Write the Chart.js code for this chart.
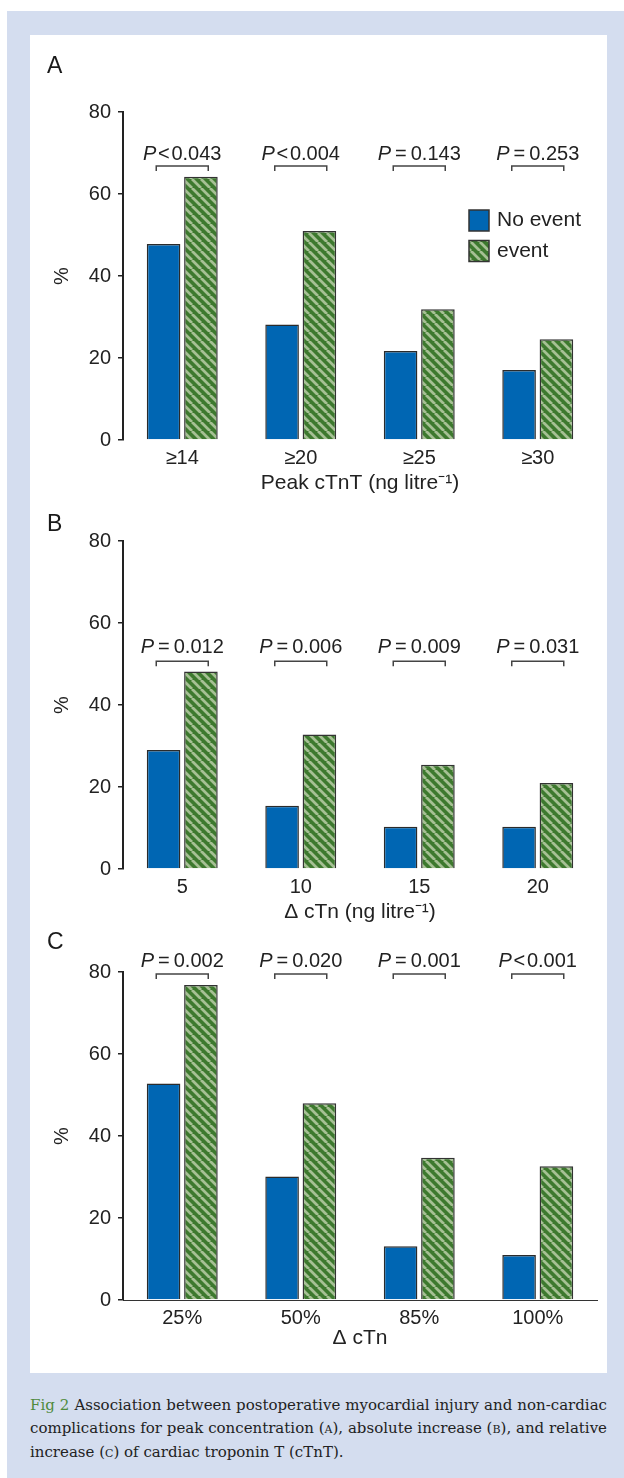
<!DOCTYPE html>
<html><head><meta charset="utf-8">
<script src="https://cdn.jsdelivr.net/npm/chart.js@4.4.0/dist/chart.umd.min.js"></script>
<style>
html,body{margin:0;padding:0;background:#fff;}
body{width:624px;height:1478px;position:relative;overflow:hidden;font-family:"Liberation Sans",Arial,sans-serif;}
#frame{position:absolute;left:7px;top:11px;width:617px;height:1467px;background:#d4ddef;}
#panel{position:absolute;left:30px;top:35px;width:577px;height:1338px;background:#fff;}
canvas{position:absolute;left:30px;}
.letter{position:absolute;left:47px;font-size:23px;line-height:1;color:#1a1a1a;}
#caption{position:absolute;left:30px;top:1394px;width:577px;font-family:"DejaVu Serif",serif;font-size:15px;line-height:23.3px;color:#222;}
#caption .line{text-align:justify;text-align-last:justify;white-space:nowrap;}
#caption .fig{color:#4f8a3c;}
.sc{font-variant:small-caps;}
</style>
</head><body>
<div id="frame"></div>
<div id="panel"></div>
<canvas id="cA" width="577" height="461" style="top:35px"></canvas>
<canvas id="cB" width="577" height="425" style="top:500px"></canvas>
<canvas id="cC" width="577" height="429" style="top:927px"></canvas>
<div class="letter" style="top:54px">A</div>
<div class="letter" style="top:512px">B</div>
<div class="letter" style="top:930px">C</div>
<div id="caption">
<div class="line"><span class="fig">Fig 2</span> Association between postoperative myocardial injury and non-cardiac</div>
<div class="line">complications for peak concentration (<span class="sc">a</span>), absolute increase (<span class="sc">b</span>), and relative</div>
<div>increase (<span class="sc">c</span>) of cardiac troponin T (cTnT).</div>
</div>
<script>
// ---- data ----
const seriesNames = ['No event', 'event'];
const yTicks = [0, 20, 40, 60, 80];

const catsA = ['≥14', '≥20', '≥25', '≥30'];
const noEventA = [47.8, 28.2, 21.7, 17.1];
const eventA = [64.2, 51.0, 31.9, 24.6];
const pA = ['<0.043', '<0.004', '=0.143', '=0.253'];

const catsB = ['5', '10', '15', '20'];
const noEventB = [29.0, 15.4, 10.3, 10.3];
const eventB = [48.2, 32.8, 25.4, 21.0];
const pB = ['=0.012', '=0.006', '=0.009', '=0.031'];

const catsC = ['25%', '50%', '85%', '100%'];
const noEventC = [52.8, 30.1, 13.1, 11.0];
const eventC = [76.8, 48.0, 34.7, 32.6];
const pC = ['=0.002', '=0.020', '=0.001', '<0.001'];

// ---- styling ----
const FONT = '"Liberation Sans", Arial, sans-serif';
Chart.defaults.font.family = FONT;
Chart.defaults.color = '#222';
const BLUE = '#0066b3';

function makeHatch(ctx) {
  const n = 9;
  const c = document.createElement('canvas');
  c.width = n; c.height = n;
  const g = c.getContext('2d');
  g.fillStyle = '#3d792e';
  g.fillRect(0, 0, n, n);
  g.strokeStyle = '#a6c094';
  g.lineWidth = 2.8;
  g.beginPath();
  for (const o of [-n, 0, n]) { g.moveTo(o, 0); g.lineTo(o + n, n); }
  g.stroke();
  return ctx.createPattern(c, 'repeat');
}

function fmtP(s) {
  const sign = s[0], val = s.slice(1);
  return sign === '=' ? '\u2009=\u2009' + val : '\u200a' + sign + '\u200a' + val;
}

const pBracket = {
  id: 'pBracket',
  afterDatasetsDraw(chart, args, opts) {
    const { ctx, scales: { x, y } } = chart;
    const yy = y.getPixelForValue(opts.level);
    ctx.save();
    opts.labels.forEach((lab, i) => {
      const cx = x.getPixelForValue(i);
      ctx.strokeStyle = '#444';
      ctx.lineWidth = 1.5;
      ctx.beginPath();
      ctx.moveTo(cx - 26, yy + 5); ctx.lineTo(cx - 26, yy);
      ctx.lineTo(cx + 26, yy); ctx.lineTo(cx + 26, yy + 5);
      ctx.stroke();
      const rest = fmtP(lab);
      ctx.font = 'italic 20px ' + FONT;
      const wP = ctx.measureText('P').width;
      ctx.font = '20px ' + FONT;
      const wR = ctx.measureText(rest).width;
      const start = cx - (wP + wR) / 2;
      ctx.fillStyle = '#222';
      ctx.textBaseline = 'alphabetic';
      ctx.textAlign = 'left';
      ctx.font = 'italic 20px ' + FONT;
      ctx.fillText('P', start, yy - opts.gap);
      ctx.font = '20px ' + FONT;
      ctx.fillText(rest, start + wP, yy - opts.gap);
    });
    ctx.restore();
  }
};

const insideLegend = {
  id: 'insideLegend',
  afterDraw(chart, args, opts) {
    if (!opts.show) return;
    const { ctx, chartArea } = chart;
    ctx.save();
    chart.data.datasets.forEach((ds, i) => {
      const x0 = chartArea.left + opts.dx, y0 = chartArea.top + opts.dy + i * 30.5;
      ctx.fillStyle = ds.backgroundColor;
      ctx.fillRect(x0, y0, 20, 21);
      ctx.strokeStyle = '#333';
      ctx.lineWidth = 1.5;
      ctx.strokeRect(x0, y0, 20, 21);
      ctx.fillStyle = '#222';
      ctx.font = '21px ' + FONT;
      ctx.textBaseline = 'middle';
      ctx.textAlign = 'left';
      ctx.fillText(ds.label, x0 + 28, y0 + 10.5);
    });
    ctx.restore();
  }
};

function makeChart(id, cfg) {
  const canvas = document.getElementById(id);
  const hatch = makeHatch(canvas.getContext('2d'));
  return new Chart(canvas, {
    type: 'bar',
    data: {
      labels: cfg.labels,
      datasets: [
        { label: seriesNames[0], data: cfg.noEvent, backgroundColor: BLUE, borderColor: '#2b2b2b', borderWidth: 1.5 },
        { label: seriesNames[1], data: cfg.event, backgroundColor: hatch, borderColor: '#333', borderWidth: 1.5 }
      ]
    },
    options: {
      responsive: false,
      animation: false,
      devicePixelRatio: 1,
      layout: { padding: { top: cfg.padTop, left: 0, right: 10, bottom: 0 } },
      datasets: { bar: { categoryPercentage: 0.63, barPercentage: 0.9 } },
      plugins: {
        legend: { display: false },
        tooltip: { enabled: false },
        pBracket: { labels: cfg.p, level: cfg.level, gap: cfg.gap },
        insideLegend: { show: cfg.legend, dx: 346, dy: 98 }
      },
      scales: {
        x: {
          grid: { display: false, drawTicks: false },
          border: { display: cfg.baseline, dash: [1.5, 1.5], color: '#333', width: 1 },
          ticks: { font: { size: 20 }, color: '#222', padding: 6 },
          title: { display: true, text: cfg.xTitle, font: { size: 21 }, color: '#222', padding: { top: 0, bottom: cfg.titlePad } },
          afterFit(s) { s.height = 56; }
        },
        y: {
          min: 0, max: 80,
          afterBuildTicks(s) { s.ticks = yTicks.map(v => ({ value: v })); },
          ticks: { font: { size: 20 }, color: '#222', padding: 7 },
          grid: { drawOnChartArea: false, drawTicks: true, tickLength: 5, color: '#222', lineWidth: 1.5 },
          border: { display: true, color: '#222', width: 2 },
          title: { display: true, text: '%', font: { size: 20 }, color: '#222', padding: { top: 20, bottom: 0 } },
          afterFit(s) { s.width = 93; }
        }
      }
    },
    plugins: [pBracket, insideLegend]
  });
}

makeChart('cA', { labels: catsA, noEvent: noEventA, event: eventA, p: pA, level: 66.8, gap: 6, padTop: 77, legend: true, baseline: false, xTitle: 'Peak cTnT (ng litre⁻¹)', titlePad: 0 });
makeChart('cB', { labels: catsB, noEvent: noEventB, event: eventB, p: pB, level: 50.7, gap: 8, padTop: 41, legend: false, baseline: false, xTitle: 'Δ cTn (ng litre⁻¹)', titlePad: 0 });
makeChart('cC', { labels: catsC, noEvent: noEventC, event: eventC, p: pC, level: 79.5, gap: 7, padTop: 45, legend: false, baseline: true, xTitle: 'Δ cTn', titlePad: 5 });
</script>
</body></html>
